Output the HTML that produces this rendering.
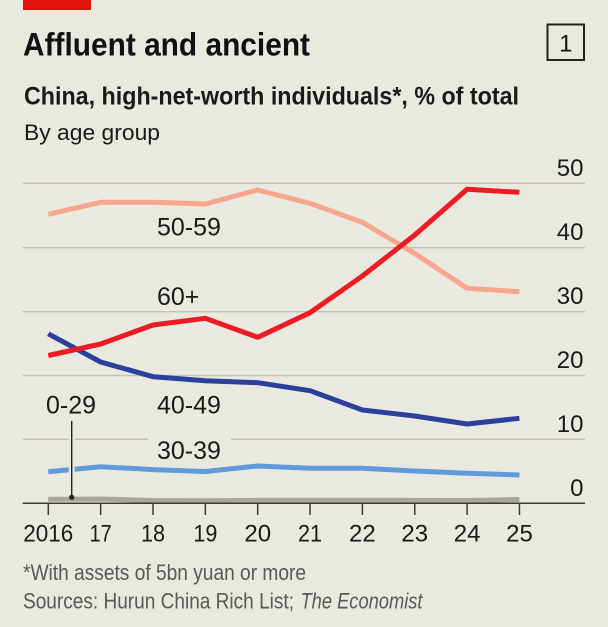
<!DOCTYPE html>
<html>
<head>
<meta charset="utf-8">
<style>
  html, body { margin: 0; padding: 0; background: #EAE9DF; }
  body { width: 608px; height: 627px; overflow: hidden; }
  svg { display: block; }
  text { font-family: "Liberation Sans", "DejaVu Sans", sans-serif; }
</style>
</head>
<body>
<svg width="608" height="627" viewBox="0 0 608 627" xmlns="http://www.w3.org/2000/svg">
  <rect x="0" y="0" width="608" height="627" fill="#EAE9DF"/>
  <!-- red top bar -->
  <rect x="23" y="0" width="68" height="10" fill="#E3120B"/>

  <!-- title -->
  <text x="23" y="55.5" font-size="32" font-weight="bold" fill="#111" textLength="287" lengthAdjust="spacingAndGlyphs">Affluent and ancient</text>

  <!-- box 1 -->
  <rect x="547.5" y="24.5" width="36.5" height="35.5" fill="none" stroke="#222" stroke-width="2"/>
  <text x="565.8" y="51.7" font-size="24" fill="#111" text-anchor="middle">1</text>

  <!-- subtitle -->
  <text x="24" y="104.3" font-size="25" font-weight="bold" fill="#1a1a1a" textLength="495" lengthAdjust="spacingAndGlyphs">China, high-net-worth individuals*, % of total</text>
  <text x="24" y="140" font-size="22" fill="#1a1a1a" textLength="136" lengthAdjust="spacingAndGlyphs">By age group</text>

  <!-- gridlines -->
  <g stroke="#C4C2B8" stroke-width="1.4">
    <line x1="22.7" y1="183.3" x2="585" y2="183.3"/>
    <line x1="22.7" y1="247.7" x2="585" y2="247.7"/>
    <line x1="22.7" y1="311.7" x2="585" y2="311.7"/>
    <line x1="22.7" y1="375.5" x2="585" y2="375.5"/>
    <line x1="22.7" y1="439.3" x2="148" y2="439.3"/>
    <line x1="231" y1="439.3" x2="585" y2="439.3"/>
  </g>

  <!-- y tick labels -->
  <g font-size="24" fill="#1a1a1a" text-anchor="end">
    <text x="583.5" y="176">50</text>
    <text x="583.5" y="240">40</text>
    <text x="583.5" y="304">30</text>
    <text x="583.5" y="368">20</text>
    <text x="583.5" y="432">10</text>
    <text x="583.5" y="496">0</text>
  </g>

  <!-- series -->
  <g fill="none" stroke-width="5" stroke-linejoin="round" stroke-linecap="butt">
    <!-- 0-29 gray -->
    <polyline stroke="#A8A698" points="48.3,499.3 100.65,499.0 153.0,500.5 205.35,500.7 257.7,500.3 310.05,500.2 362.4,500.2 414.75,500.4 467.1,500.5 519.45,499.5"/>
    <!-- 30-39 light blue -->
    <polyline stroke="#5F9BDB" points="48.3,471.7 100.65,466.7 153.0,469.6 205.35,471.5 257.7,466.0 310.05,468.3 362.4,468.3 414.75,471.0 467.1,473.3 519.45,475.0"/>
    <!-- 40-49 dark blue -->
    <polyline stroke="#2B3F9C" points="48.3,333.8 100.65,362.0 153.0,376.7 205.35,380.7 257.7,382.7 310.05,390.7 362.4,410.0 414.75,416.0 467.1,424.0 519.45,418.3"/>
    <!-- 50-59 pink -->
    <polyline stroke="#F8A68D" points="48.3,214.3 100.65,202.3 153.0,202.3 205.35,204.0 257.7,190.0 310.05,203.3 362.4,222.3 414.75,253.5 467.1,288.3 519.45,291.7"/>
    <!-- 60+ red -->
    <polyline stroke="#EC1C24" points="48.3,355.5 100.65,344.0 153.0,325.0 205.35,318.3 257.7,337.3 310.05,312.7 362.4,276.0 414.75,235.0 467.1,189.3 519.45,192.3"/>
  </g>

  <!-- leader line for 0-29 -->
  <line x1="71.7" y1="430" x2="71.7" y2="490" stroke="#EAE9DF" stroke-width="6"/>
  <line x1="71.7" y1="421" x2="71.7" y2="497.3" stroke="#222" stroke-width="1.4"/>
  <circle cx="71.7" cy="497.3" r="2.6" fill="#222"/>

  <!-- axis -->
  <g stroke="#3a3a3a" stroke-width="1.5">
    <line x1="22.7" y1="503.2" x2="585" y2="503.2"/>
    <line x1="48.3" y1="503" x2="48.3" y2="515"/>
    <line x1="100.65" y1="503" x2="100.65" y2="515"/>
    <line x1="153.0" y1="503" x2="153.0" y2="515"/>
    <line x1="205.35" y1="503" x2="205.35" y2="515"/>
    <line x1="257.7" y1="503" x2="257.7" y2="515"/>
    <line x1="310.05" y1="503" x2="310.05" y2="515"/>
    <line x1="362.4" y1="503" x2="362.4" y2="515"/>
    <line x1="414.75" y1="503" x2="414.75" y2="515"/>
    <line x1="467.1" y1="503" x2="467.1" y2="515"/>
    <line x1="519.45" y1="503" x2="519.45" y2="515"/>
  </g>

  <!-- x labels -->
  <g font-size="24" fill="#1a1a1a" text-anchor="middle">
    <text x="48.3" y="541.7" textLength="50" lengthAdjust="spacingAndGlyphs">2016</text>
    <text x="100.65" y="541.7" textLength="22" lengthAdjust="spacingAndGlyphs">17</text>
    <text x="153.0" y="541.7" textLength="24" lengthAdjust="spacingAndGlyphs">18</text>
    <text x="205.35" y="541.7" textLength="24" lengthAdjust="spacingAndGlyphs">19</text>
    <text x="257.7" y="541.7">20</text>
    <text x="310.05" y="541.7" textLength="24" lengthAdjust="spacingAndGlyphs">21</text>
    <text x="362.4" y="541.7">22</text>
    <text x="414.75" y="541.7">23</text>
    <text x="467.1" y="541.7">24</text>
    <text x="519.45" y="541.7">25</text>
  </g>

  <!-- series labels -->
  <g font-size="25" fill="#1a1a1a">
    <text x="157" y="235.7">50-59</text>
    <text x="157" y="305">60+</text>
    <text x="157" y="413.3">40-49</text>
    <text x="157" y="459">30-39</text>
    <text x="46" y="413.3">0-29</text>
  </g>

  <!-- footnotes -->
  <text x="23" y="580" font-size="22" fill="#595959" textLength="283" lengthAdjust="spacingAndGlyphs">*With assets of 5bn yuan or more</text>
  <text x="23" y="608.5" font-size="22" fill="#595959" textLength="271" lengthAdjust="spacingAndGlyphs">Sources: Hurun China Rich List;</text>
  <text x="300.5" y="608.5" font-size="22" font-style="italic" fill="#595959" textLength="122" lengthAdjust="spacingAndGlyphs">The Economist</text>
</svg>
</body>
</html>
